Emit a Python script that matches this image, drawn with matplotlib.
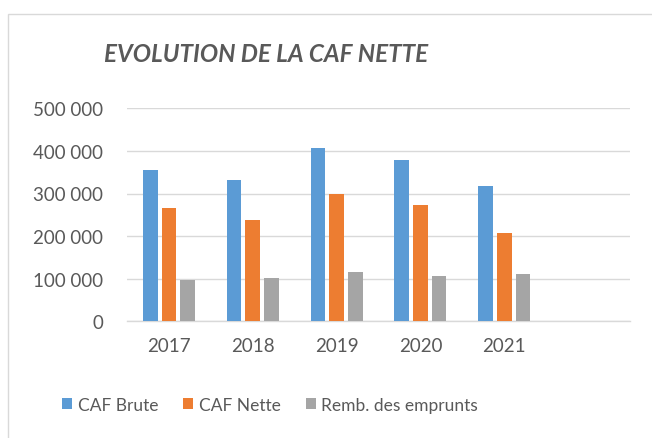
import matplotlib
matplotlib.use("Agg")
import matplotlib.pyplot as plt
from matplotlib.patches import Rectangle, Patch
import numpy as np

categories = ["2017", "2018", "2019", "2020", "2021", ""]
caf_brute = [356000, 332000, 407000, 379000, 317000, None]
caf_nette = [265000, 237000, 298000, 274000, 207000, None]
remb_emprunts = [97000, 102000, 116000, 107000, 111000, None]
series_names = ["CAF Brute", "CAF Nette", "Remb. des emprunts"]
colors = ["#5B9BD5", "#ED7D31", "#A5A5A5"]
yticks = [0, 100000, 200000, 300000, 400000, 500000]
ytick_labels = ["0", "100 000", "200 000", "300 000", "400 000", "500 000"]
title = "EVOLUTION DE LA CAF NETTE"

plt.rcParams['font.family'] = ['Lato', 'DejaVu Sans']
txt = "#595959"
grid = "#D9D9D9"

W, H = 652, 439
fig = plt.figure(figsize=(W/100, H/100), dpi=100)
fig.patch.set_facecolor("white")

# chart border (extends beyond the right/bottom of the image)
fig.patches.append(Rectangle((8/W, -0.1), 1.2, 1 - 15/H + 0.1, transform=fig.transFigure,
                             fill=False, edgecolor=grid, lw=1.0))

left, right = 127/W, 630/W
bottom, top = 1 - 322.3/H, 1 - 109.3/H
ax = fig.add_axes([left, bottom, right-left, top-bottom])

x = np.arange(len(categories))
width = 0.175
step = 0.222
for i, (vals, c) in enumerate(zip([caf_brute, caf_nette, remb_emprunts], colors)):
    xs = [xi + (i-1)*step for xi, v in zip(x, vals) if v is not None]
    vs = [v for v in vals if v is not None]
    ax.bar(xs, vs, width=width, color=c, zorder=3, label=series_names[i])

ax.set_xlim(-0.5, len(categories)-0.5)
ax.set_ylim(0, 500000)
ax.set_yticks(yticks)
ax.set_yticklabels(ytick_labels)
ax.set_xticks(x)
ax.set_xticklabels(categories)
ax.yaxis.grid(True, color=grid, lw=1.0, zorder=0)
ax.set_axisbelow(True)
for s in ["top", "right", "left"]:
    ax.spines[s].set_visible(False)
ax.spines["bottom"].set_color(grid)
ax.spines["bottom"].set_linewidth(1.0)
ax.tick_params(axis="both", length=0, labelsize=13.5, colors=txt)
ax.tick_params(axis="y", pad=17)
ax.tick_params(axis="x", pad=11)

fig.text(266/W, 1 - 55/H, title, ha="center", va="center", fontsize=17.5,
         fontweight="bold", fontstyle="italic", color=txt)

handles = [Patch(facecolor=c, edgecolor="none") for c in colors]
leg = fig.legend(handles, series_names, loc="center", bbox_to_anchor=(270/W, 1 - 406/H),
                 ncol=3, frameon=False, fontsize=12.5, handlelength=0.58, handleheight=0.58,
                 handletextpad=0.3, columnspacing=1.45)
for t in leg.get_texts():
    t.set_color(txt)

fig.savefig("out.png", dpi=100, facecolor="white")
